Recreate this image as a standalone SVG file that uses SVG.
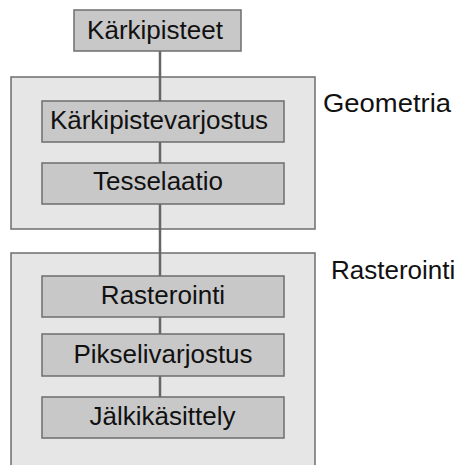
<svg xmlns="http://www.w3.org/2000/svg" width="457" height="465" viewBox="0 0 457 465">
<style>
.grp{fill:#e6e6e6;stroke:#6e6e6e;stroke-width:1.5}
.box{fill:#c8c8c8;stroke:#6e6e6e;stroke-width:1.5}
.t{font-family:"Liberation Sans",Arial,sans-serif;font-size:26px;fill:#111;text-anchor:middle}
.lbl{font-family:"Liberation Sans",Arial,sans-serif;font-size:26px;fill:#111}
.c{stroke:#666;stroke-width:2.5;fill:none}
</style>
<rect width="457" height="465" fill="#fff"/>
<g id="geometria">
<rect class="grp" x="11" y="77" width="304" height="152"/>
<text class="lbl" x="323" y="112" textLength="128" lengthAdjust="spacingAndGlyphs">Geometria</text>
</g>
<g id="rasterointi-group">
<rect class="grp" x="11" y="253" width="304" height="230"/>
<text class="lbl" x="331" y="279">Rasterointi</text>
</g>
<g id="connectors">
<line class="c" x1="160" y1="51" x2="160" y2="101"/>
<line class="c" x1="160" y1="142" x2="160" y2="163"/>
<line class="c" x1="160" y1="204" x2="160" y2="276"/>
<line class="c" x1="160" y1="317" x2="160" y2="334"/>
<line class="c" x1="160" y1="376" x2="160" y2="397"/>
</g>
<g id="karkipisteet">
<rect class="box" x="74" y="10" width="167" height="41"/>
<text class="t" x="155" y="39">Kärkipisteet</text>
</g>
<g id="karkipistevarjostus">
<rect class="box" x="42" y="101" width="242" height="41"/>
<text class="t" x="159" y="129">Kärkipistevarjostus</text>
</g>
<g id="tesselaatio">
<rect class="box" x="42" y="163" width="242" height="41"/>
<text class="t" x="158" y="190">Tesselaatio</text>
</g>
<g id="rasterointi">
<rect class="box" x="42" y="276" width="242" height="41"/>
<text class="t" x="163" y="304">Rasterointi</text>
</g>
<g id="pikselivarjostus">
<rect class="box" x="42" y="334" width="242" height="42"/>
<text class="t" x="163" y="363">Pikselivarjostus</text>
</g>
<g id="jalkikasittely">
<rect class="box" x="42" y="397" width="242" height="41"/>
<text class="t" x="162.5" y="425">Jälkikäsittely</text>
</g>
</svg>
